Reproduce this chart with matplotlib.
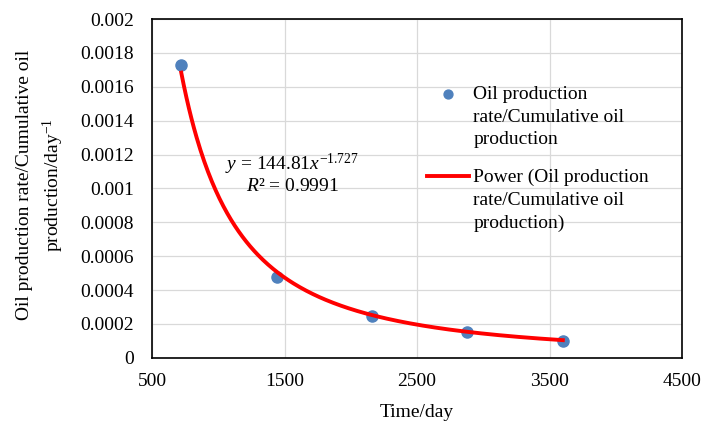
import numpy as np
import matplotlib.pyplot as plt
import matplotlib.transforms as mtransforms
from matplotlib.legend_handler import HandlerLine2D, HandlerPathCollection

plt.rcParams['font.family'] = ['Liberation Serif', 'DejaVu Serif']
plt.rcParams['mathtext.fontset'] = 'custom'
plt.rcParams['mathtext.rm'] = 'Liberation Serif'
plt.rcParams['mathtext.it'] = 'Liberation Serif:italic'

# data
time_day = [720, 1440, 2160, 2880, 3600]
ratio = [0.00173, 0.00048, 0.00025, 0.00015, 0.0001]
# power trendline shown on chart: y = a * x^b
fit_a = 144.81
fit_b = -1.727
r2 = 0.9991

LEG_SHIFT = 17.5  # points: put legend keys next to the first text line


class TopLine(HandlerLine2D):
    def create_artists(self, legend, orig_handle, xdescent, ydescent,
                       width, height, fontsize, trans):
        t = mtransforms.Affine2D().translate(0, LEG_SHIFT) + trans
        return super().create_artists(legend, orig_handle, xdescent, ydescent,
                                      width, height, fontsize, t)


class TopDots(HandlerPathCollection):
    def create_artists(self, legend, orig_handle, xdescent, ydescent,
                       width, height, fontsize, trans):
        arts = super().create_artists(legend, orig_handle, xdescent, ydescent,
                                      width, height, fontsize, trans)
        for a in arts:
            offs = a.get_offsets()
            offs[:, 1] += LEG_SHIFT
            a.set_offsets(offs)
        return arts


fig = plt.figure(figsize=(7.01, 4.23), dpi=100)
ax = fig.add_axes([0.217, 0.154, 0.756, 0.801])

xs = np.linspace(min(time_day), max(time_day), 300)
dots = ax.scatter(time_day, ratio, s=64, color='#4F81BD', zorder=3,
                  label='Oil production\nrate/Cumulative oil\nproduction')
line, = ax.plot(xs, fit_a * xs ** fit_b, color='#FF0000', lw=2.8, zorder=4,
                label='Power (Oil production\nrate/Cumulative oil\nproduction)')

ax.set_xlim(500, 4500)
ax.set_ylim(0, 0.002)
ax.set_xticks([500, 1500, 2500, 3500, 4500])
ax.set_yticks(np.arange(0, 0.00201, 0.0002))
ax.set_yticklabels(['0', '0.0002', '0.0004', '0.0006', '0.0008', '0.001',
                    '0.0012', '0.0014', '0.0016', '0.0018', '0.002'])
ax.grid(True, color='#D9D9D9', lw=0.9)
ax.set_axisbelow(True)
ax.tick_params(axis='y', length=0, labelsize=14, pad=13)
ax.tick_params(axis='x', length=0, labelsize=14, pad=11)
for s in ax.spines.values():
    s.set_linewidth(1.2)
    s.set_color('black')

ax.set_xlabel('Time/day', fontsize=14, labelpad=10)
ax.set_ylabel('Oil production rate/Cumulative oil\nproduction/day$^{-1}$',
              fontsize=14, linespacing=1.4)
ax.yaxis.set_label_coords(-0.163, 0.51)

ax.text(1557, 0.00096, '$y$ = 144.81$x^{-1.727}$\n$R$² = 0.9991',
        ha='center', va='bottom', fontsize=14, linespacing=1.1)

leg = ax.legend(loc='upper left', bbox_to_anchor=(0.485, 0.855), frameon=False,
                fontsize=14, handlelength=2.2, handletextpad=0.2,
                labelspacing=1.05, markerscale=0.8,
                handler_map={type(dots): TopDots(), type(line): TopLine()})
for t in leg.get_texts():
    t.set_linespacing(1.45)

fig.savefig('out.png', dpi=100)
